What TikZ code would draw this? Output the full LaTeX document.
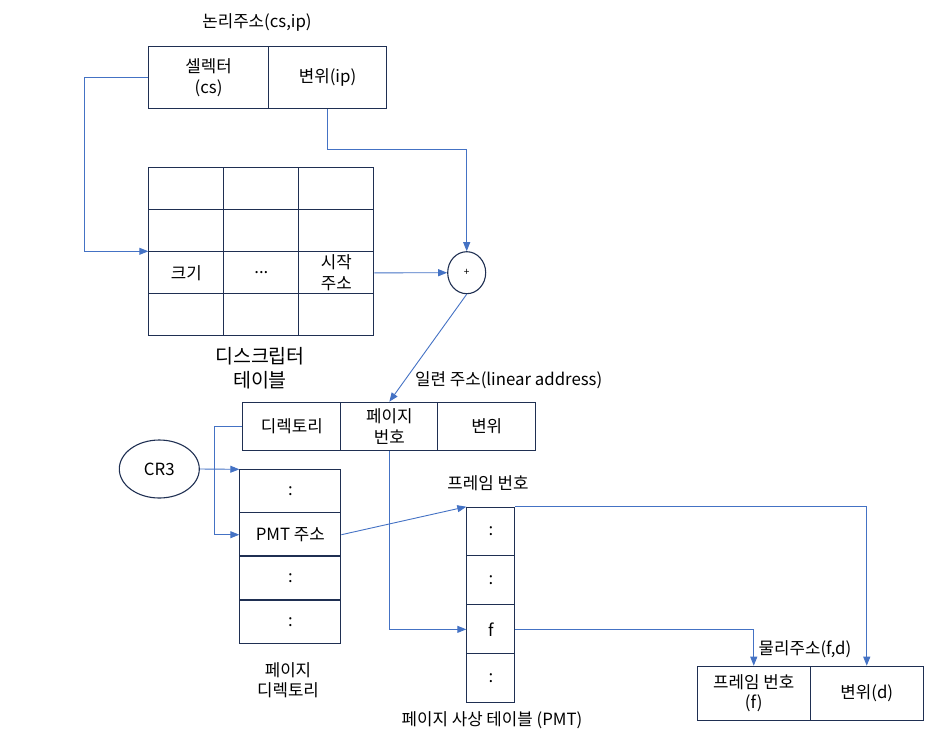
\documentclass[tikz,border=0pt]{standalone}
\usepackage{fontspec}
\setmainfont{Noto Sans CJK KR}
\usetikzlibrary{arrows.meta,shapes.geometric}
\definecolor{boxc}{HTML}{1F2F52}
\definecolor{linec}{HTML}{4472C4}
\tikzset{
  cellbox/.style={draw=boxc, line width=1.1pt, inner sep=0pt, anchor=north west, align=center},
  conn/.style={draw=linec, line width=0.9pt, -{Triangle[length=9pt,width=7pt]}},
  lbl/.style={inner sep=0pt, align=center},
  biglbl/.style={inner sep=0pt, align=center, font=\fontsize{19.5}{24}\selectfont},
}
\begin{document}
\begin{tikzpicture}[x=1pt,y=-1pt, every node/.style={font=\fontsize{16.8}{20.5}\selectfont}]
\useasboundingbox (0,0) rectangle (939,740);

% logical address
\node[lbl] (lt) at (257,22) {논리주소(cs,ip)};
\node[cellbox, minimum width=119.4, minimum height=62.6] (sel) at (148.3,45.7) {셀렉터\\(cs)};
\node[cellbox, minimum width=118.6, minimum height=62.6] (off) at (267.7,45.7) {변위(ip)};

% descriptor table
\foreach \r in {1,...,4}{\foreach \c in {1,2,3}{
  \node[cellbox, minimum width=75, minimum height=42] (d\r\c) at ({148.3+75*(\c-1)},{167.3+42*(\r-1)}) {};
}}
\node[lbl] (tsize) at (d31) {크기};
\node[lbl] (tdots) at (d32) {...};
\node[lbl] (tstart) at (d33) {시작\\주소};
\node[biglbl] (dtl) at (260,368) {디스크립터\\테이블};

% adder
\node[draw=boxc, line width=1.1pt, ellipse, minimum width=38, minimum height=42, inner sep=0pt] (plus) at (466.7,272.7) {\fontsize{10}{10}\selectfont +};

% linear address
\node[lbl, anchor=west] (lal) at (415,380) {일련 주소(linear address)};
\node[cellbox, minimum width=98, minimum height=48.3] (la1) at (242.3,401.7) {디렉토리};
\node[cellbox, minimum width=97, minimum height=48.3] (la2) at (340.3,401.7) {페이지\\번호};
\node[cellbox, minimum width=97.7, minimum height=48.3] (la3) at (437.3,401.7) {변위};

% CR3
\node[draw=boxc, line width=1.1pt, ellipse, minimum width=80, minimum height=58, inner sep=0pt] (cr3) at (159.3,469) {CR3};

% page directory
\node[cellbox, minimum width=101, minimum height=43] (pd1) at (239.3,469.3) {:};
\node[cellbox, minimum width=101, minimum height=43.7] (pd2) at (239.3,512.3) {PMT 주소};
\node[cellbox, minimum width=101, minimum height=43.7] (pd3) at (239.3,556) {:};
\node[cellbox, minimum width=101, minimum height=43.6] (pd4) at (239.3,599.7) {:};
\draw[boxc, line width=2pt] (pd3.north west) -- (pd3.north east);
\draw[boxc, line width=2pt] (pd4.north west) -- (pd4.north east);
\node[lbl] (pdl) at (288,680) {페이지\\디렉토리};

% PMT
\node[lbl] (fnl) at (488,483) {프레임 번호};
\node[cellbox, minimum width=48, minimum height=48.6] (pmt1) at (466.3,506.7) {:};
\node[cellbox, minimum width=48, minimum height=49] (pmt2) at (466.3,555.3) {:};
\node[cellbox, minimum width=48, minimum height=49] (pmt3) at (466.3,604.3) {f};
\node[cellbox, minimum width=48, minimum height=48.7] (pmt4) at (466.3,653.3) {:};
\node[lbl] (pmtl) at (492,720) {페이지 사상 테이블 (PMT)};

% physical address
\node[lbl] (phl) at (805,649) {물리주소(f,d)};
\node[cellbox, minimum width=113, minimum height=54.3] (ph1) at (696.7,665.7) {프레임 번호\\(f)};
\node[cellbox, minimum width=113, minimum height=54.3] (ph2) at (809.7,665.7) {변위(d)};

% connectors
\draw[conn] (sel.west) -- ++(-64,0) |- (d31.north west);
\draw[conn] (off.south) -- ++(0,40) -| (plus.north);
\draw[conn] (d33.east) -- (plus.west);
\draw[conn] (plus.south) -- (la2.north);
\draw[conn] (cr3.east) -- (pd1.north west);
\draw[conn] (la1.west) -- ++(-28,0) |- (pd2.west);
\draw[conn] (pd2.east) -- (pmt1.north west);
\draw[conn] (la2.south) |- (pmt3.west);
\draw[conn] (pmt3.east) -| (ph1.north);
\draw[conn] (pmt1.north east) -| (ph2.north);
\end{tikzpicture}
\end{document}
